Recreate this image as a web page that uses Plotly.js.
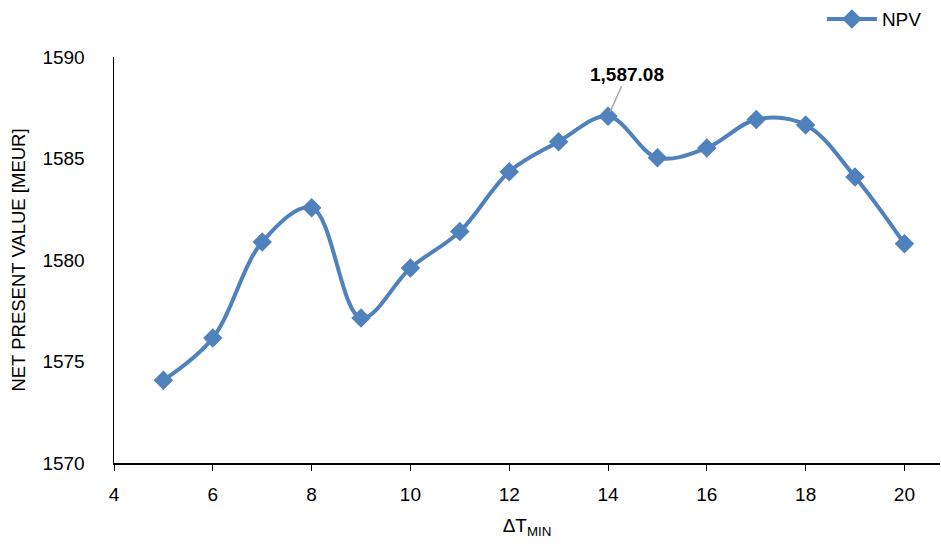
<!DOCTYPE html>
<html>
<head>
<meta charset="utf-8">
<script src="https://cdn.plot.ly/plotly-3.0.1.min.js"></script>
<style>html,body{margin:0;padding:0;background:#fff;}#chart{width:941px;height:544px;}</style>
</head>
<body>
<div id="chart"></div>
<script>
const dtMin = [5, 6, 7, 8, 9, 10, 11, 12, 13, 14, 15, 16, 17, 18, 19, 20];
const npv = [1574.08, 1576.16, 1580.89, 1582.58, 1577.14, 1579.61, 1581.4, 1584.35, 1585.83, 1587.08, 1585.04, 1585.52, 1586.92, 1586.65, 1584.09, 1580.8];
const seriesName = 'NPV';
const xTicks = [4, 6, 8, 10, 12, 14, 16, 18, 20];
const yTicks = [1570, 1575, 1580, 1585, 1590];
const peakLabel = '1,587.08';

const font = "'Liberation Sans Narrow', 'Liberation Sans', Arial, sans-serif";
const color = '#4F81BD';

const trace = {
  x: dtMin, y: npv, name: seriesName, type: 'scatter', mode: 'lines+markers',
  line: {color: color, width: 4, shape: 'spline', smoothing: 1},
  marker: {symbol: 'diamond', size: 15, color: color}
};

const layout = {
  width: 941, height: 544,
  margin: {l: 114, r: 1, t: 57, b: 81, autoexpand: false},
  paper_bgcolor: '#fff', plot_bgcolor: '#fff',
  font: {family: font, size: 19, color: '#000'},
  showlegend: true,
  legend: {xref: 'container', yref: 'container', x: 0.985, xanchor: 'right', y: 0.965, yanchor: 'middle',
    font: {family: font, size: 19, color: '#000'}, bgcolor: 'rgba(0,0,0,0)', itemwidth: 50},
  xaxis: {
    range: [4, 20.72], tickvals: xTicks, ticktext: xTicks.map(String),
    showline: true, linecolor: '#000', linewidth: 1.5, ticks: 'outside', ticklen: 6, tickcolor: '#000',
    ticklabelstandoff: 8,
    showgrid: false, zeroline: false, tickfont: {family: font, size: 19},
    title: {text: 'ΔT<sub>MIN</sub>', font: {family: font, size: 19}, standoff: 14}
  },
  yaxis: {
    range: [1570, 1590], tickvals: yTicks, ticktext: yTicks.map(String),
    showline: true, linecolor: '#000', linewidth: 1.5, ticks: '', ticklen: 0,
    ticklabelstandoff: 24,
    showgrid: false, zeroline: false, tickfont: {family: font, size: 19},
    title: {text: 'NET PRESENT VALUE [MEUR]', font: {family: font, size: 18.5}, standoff: 12}
  },
  annotations: [{
    x: dtMin[9], y: npv[9], xref: 'x', yref: 'y', text: '<b>' + peakLabel + '</b>',
    showarrow: true, arrowhead: 0, arrowwidth: 1.5, arrowcolor: '#A6A6A6', ax: 19, ay: -42, standoff: 5,
    font: {family: font, size: 19, color: '#000'}
  }]
};

Plotly.newPlot('chart', [trace], layout, {displayModeBar: false, staticPlot: true});
</script>
</body>
</html>
